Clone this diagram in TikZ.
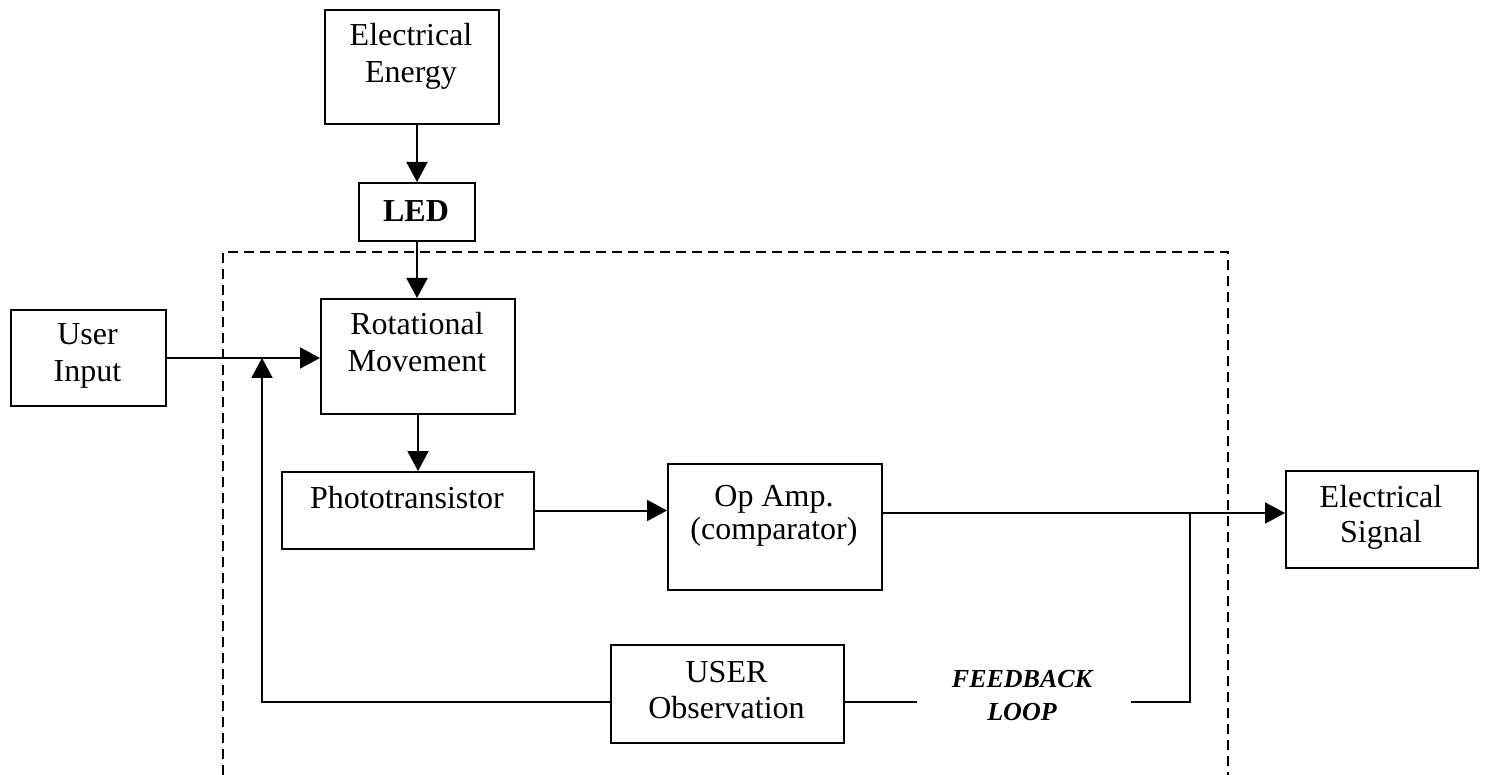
\documentclass[tikz,border=0pt]{standalone}
\usepackage{fontspec}
\setmainfont{Liberation Serif}
\usetikzlibrary{arrows.meta}
\begin{document}
\begin{tikzpicture}[x=1pt,y=-1pt,
  box/.style={draw, line width=2pt, rectangle, inner sep=0pt, anchor=north west},
  lbl/.style={font=\fontsize{32}{37}\selectfont, align=center, anchor=base, inner sep=0pt},
  arr/.style={line width=2pt, -{Triangle[length=20pt,width=21pt]}},
  ln/.style={line width=2pt},
  dashbox/.style={line width=1.6pt, dash pattern=on 10pt off 6pt}
]
\useasboundingbox (0,0) rectangle (1486,775);

% dashed enclosure
\draw[dashbox] (223,775) -- (223,252) -- (1228,252) -- (1228,775);

% boxes
\node[box, minimum width=174pt, minimum height=114pt] (ee) at (324,9) {};
\node[box, minimum width=116pt, minimum height=58pt] (led) at (358,182) {};
\node[box, minimum width=155pt, minimum height=96pt] (ui) at (10,309) {};
\node[box, minimum width=194pt, minimum height=115pt] (rm) at (320,298) {};
\node[box, minimum width=252pt, minimum height=77pt] (pt) at (281,471) {};
\node[box, minimum width=214pt, minimum height=126pt] (op) at (667,463) {};
\node[box, minimum width=192pt, minimum height=97pt] (es) at (1285,470) {};
\node[box, minimum width=233pt, minimum height=98pt] (uo) at (610,644) {};

% labels (anchor = baseline of the last line)
\node[lbl] (eet) at (411,83) {Electrical\\Energy};
\node[lbl, font=\fontsize{32}{37}\selectfont\bfseries] (ledt) at (416,222) {LED};
\node[lbl] (uit) at (87.5,382) {User\\Input};
\node[lbl] (rmt) at (417,372) {Rotational\\Movement};
\node[lbl] (ptt) at (407,508) {Phototransistor};
\node[lbl, font=\fontsize{32}{33}\selectfont] (opt) at (774,539) {Op Amp.\\(comparator)};
\node[lbl, font=\fontsize{32}{35}\selectfont] (est) at (1381,542) {Electrical\\Signal};
\node[lbl, font=\fontsize{32}{36}\selectfont] (uot) at (726.5,718) {USER\\Observation};
\node[lbl, font=\fontsize{26}{33}\selectfont\bfseries\itshape] (fbt) at (1022,720) {FEEDBACK\\LOOP};

% connectors
\draw[arr] (ee.south -| led.north) -- (led.north);
\draw[arr] (led.south) -- (led.south |- rm.north);
\draw[arr] (ui.east) -- (ui.east -| rm.west);
\draw[arr] (rm.south) -- (rm.south |- pt.north);
\draw[arr] (pt.east) -- (pt.east -| op.west);

\coordinate (jn) at (1190,513);
\coordinate (fbr) at (1190,702);
\coordinate (fbl) at (262,702);
\coordinate (fa) at (917,702);
\coordinate (fb) at (1131,702);

\draw[arr] (op.east |- jn) -- (jn -| es.west);
\draw[arr] (uo.west |- fbl) -- (fbl) -- (fbl |- ui.east);
\draw[ln] (uo.east |- fbr) -- (fa);
\draw[ln] (fb) -- (fbr) -- (jn);
\end{tikzpicture}
\end{document}
